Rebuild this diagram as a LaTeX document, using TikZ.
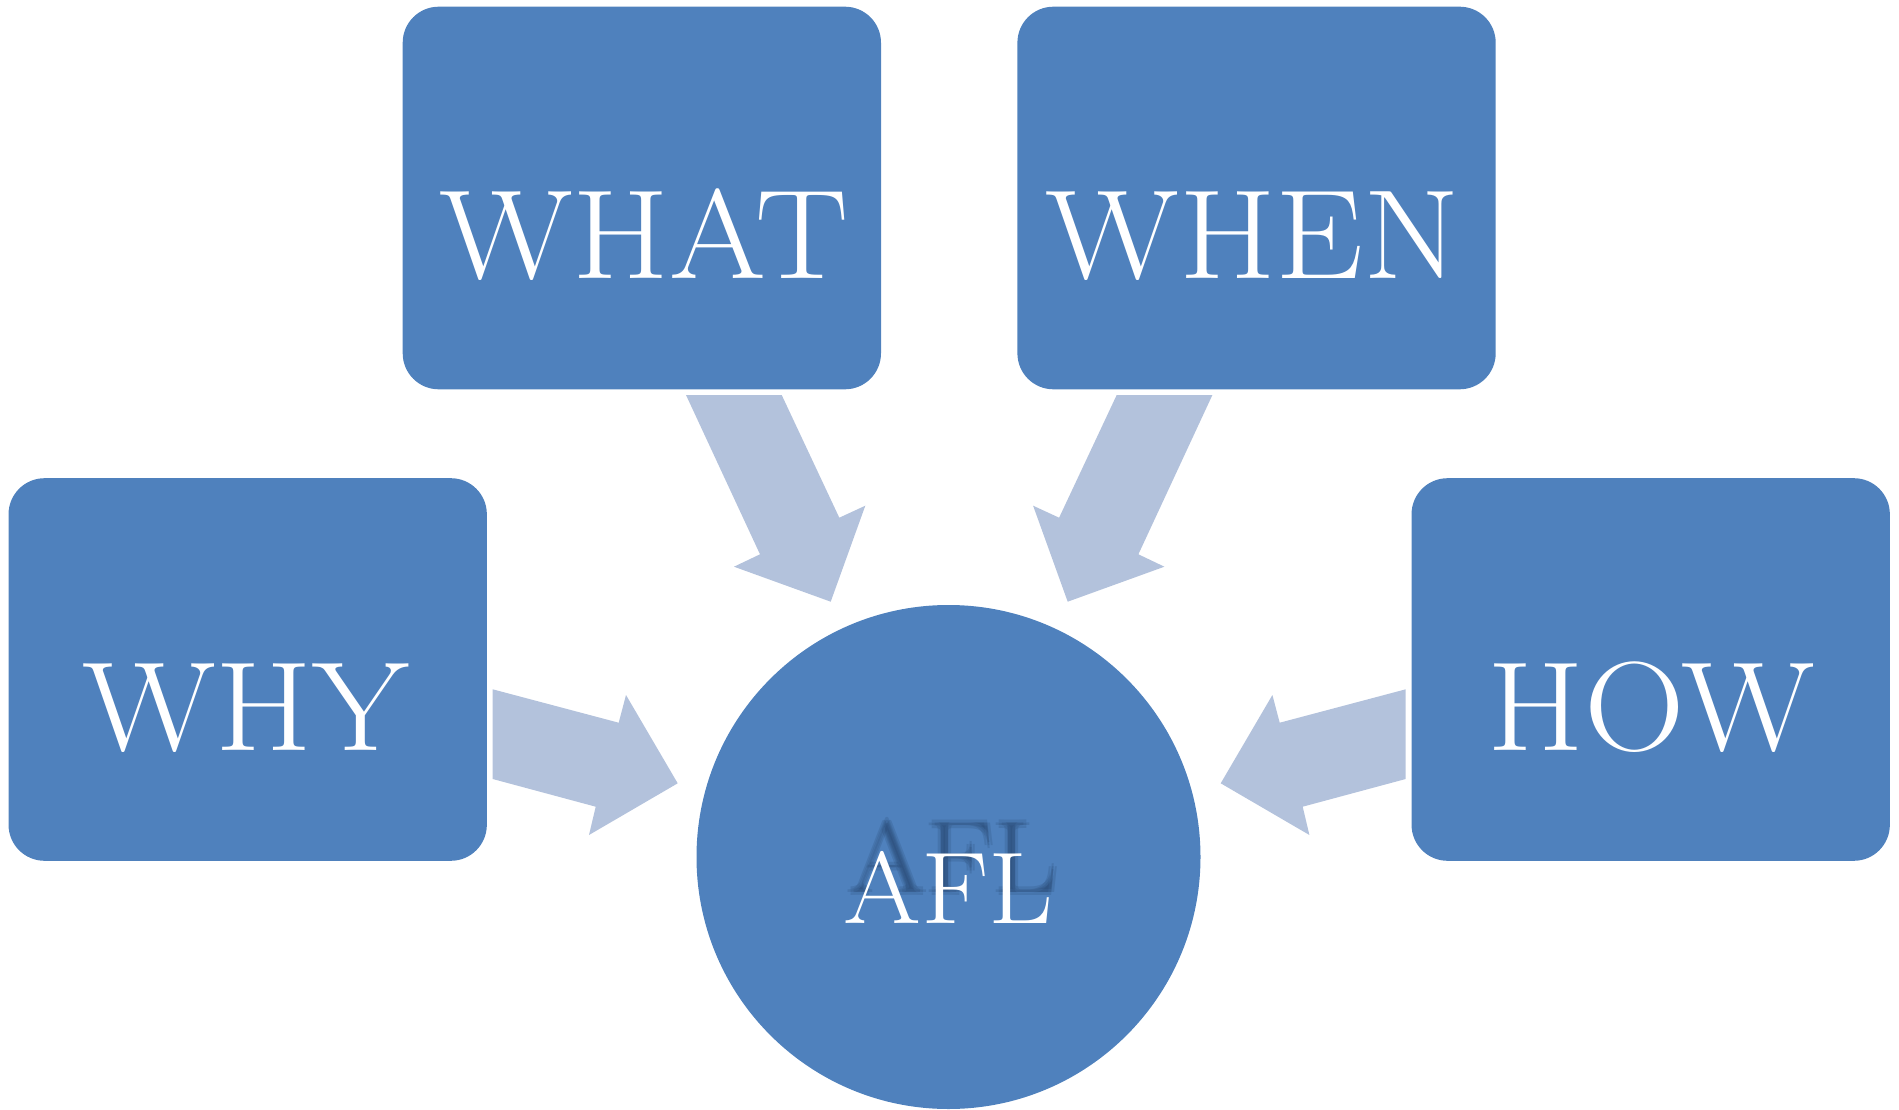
\documentclass[tikz,border=0pt]{standalone}
\usepackage{fontspec}
\newfontfamily\lblfont{Latin Modern Roman}[FakeStretch=1.1]
\definecolor{boxblue}{HTML}{4F81BD}
\definecolor{arrowblue}{HTML}{B3C2DC}
\definecolor{shadowblue}{HTML}{1F3A60}
\begin{document}
\begin{tikzpicture}[x=1pt,y=-1pt,
  box/.style={fill=boxblue, rounded corners=36pt, minimum width=478.3pt, minimum height=382.6pt, inner sep=0pt},
  lbl/.style={text=white, anchor=base, inner sep=0pt, font=\lblfont\fontsize{127}{127}\selectfont},
  afllbl/.style={lbl, font=\lblfont\fontsize{102}{102}\selectfont},
  blockarrow/.style={fill=arrowblue}]
\useasboundingbox (0,0) rectangle (1899,1110);

% boxes
\node[box] (what) at (641.85,198) {};
\node[box] (when) at (1256.55,198) {};
\node[box] (why)  at (247.7,669.5) {};
\node[box] (how)  at (1650.7,669.5) {};
\node[circle, fill=boxblue, minimum size=504pt, inner sep=0pt] (afl) at (948.5,857) {};

% labels
\node[lbl] (whatlbl) at (644,279) {WHAT};
\node[lbl] (whenlbl) at (1253,279) {WHEN};
\node[lbl] (whylbl)  at (246,750.5) {WHY};
\node[lbl] (howlbl)  at (1651,750.5) {HOW};

% AFL with blurred shadow
\foreach \dx/\dy in {-3/0,3/0,0/-3,0/3,0/0}
  \node[afllbl, text=shadowblue, opacity=0.17] at (953.5+\dx,892+\dy) {AFL};
\node[afllbl] (afllbl) at (948.5,923) {AFL};

% block arrows
\fill[blockarrow] (686,395) -- (781.7,395) -- (839.3,517.7) -- (865.3,505.7) -- (830.7,601.7) -- (734,566.7) -- (760,554.3) -- cycle;
\fill[blockarrow] (1212.4,395) -- (1116.7,395) -- (1059.1,517.7) -- (1033.1,505.7) -- (1067.7,601.7) -- (1164.4,566.7) -- (1138.4,554.3) -- cycle;
\fill[blockarrow] (492.7,689.3) -- (618.7,722.7) -- (626,695) -- (677.7,783.3) -- (589,835) -- (595.7,806.7) -- (492.7,779) -- cycle;
\fill[blockarrow] (1405.7,689.3) -- (1279.7,722.7) -- (1272.4,695) -- (1220.7,783.3) -- (1309.4,835) -- (1302.7,806.7) -- (1405.7,779) -- cycle;
\end{tikzpicture}
\end{document}
